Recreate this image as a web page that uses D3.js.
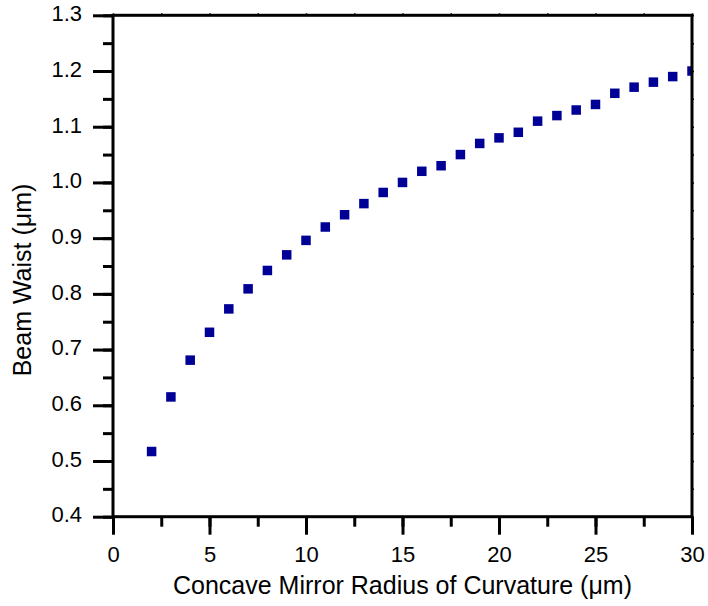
<!DOCTYPE html>
<html>
<head>
<meta charset="utf-8">
<script src="https://cdn.jsdelivr.net/npm/d3@7"></script>
<style>
  html, body { margin: 0; padding: 0; background: #fff; }
  svg { display: block; }
  text { font-family: "Liberation Sans", Arial, sans-serif; fill: #000; }
</style>
</head>
<body>
<svg id="chart" width="708" height="606"></svg>
<script>
// Beam waist versus concave mirror radius of curvature
const radius = [2, 3, 4, 5, 6, 7, 8, 9, 10, 11, 12, 13, 14, 15, 16,
                17, 18, 19, 20, 21, 22, 23, 24, 25, 26, 27, 28, 29, 30];
const waist  = [0.517, 0.615, 0.681, 0.731, 0.773, 0.809, 0.842, 0.870, 0.896, 0.920,
                0.942, 0.962, 0.982, 1.000, 1.020, 1.030, 1.050, 1.070, 1.080, 1.090,
                1.110, 1.120, 1.130, 1.140, 1.160, 1.171, 1.180, 1.190, 1.200];

const xTicks = [0, 5, 10, 15, 20, 25, 30];
const yTicks = [0.4, 0.5, 0.6, 0.7, 0.8, 0.9, 1.0, 1.1, 1.2, 1.3];
const xLabel = "Concave Mirror Radius of Curvature (\u03bcm)";
const yLabel = "Beam Waist (\u03bcm)";

const svg = d3.select("#chart");
const m = { left: 113, right: 692, top: 15.3, bottom: 516.7 };

const x = d3.scaleLinear().domain([0, 30]).range([m.left, m.right]);
const y = d3.scaleLinear().domain([0.4, 1.3]).range([m.bottom, m.top]);

const xMinor = d3.range(0, 30.01, 2.5);
const yMinor = d3.range(0.4, 1.3001, 0.05);

// clip region for the markers
svg.append("defs").append("clipPath").attr("id", "plotClip")
  .append("rect")
  .attr("x", m.left).attr("y", m.top)
  .attr("width", m.right - m.left).attr("height", m.bottom - m.top);

// data markers
svg.append("g").attr("clip-path", "url(#plotClip)")
  .selectAll("rect").data(radius).join("rect")
  .attr("x", (d) => x(d) - 4.75)
  .attr("y", (d, i) => y(waist[i]) - 4.75)
  .attr("width", 9.5).attr("height", 9.5)
  .attr("fill", "#000096");

function styleAxis(g, width) {
  g.select(".domain").remove();
  g.selectAll("line").attr("stroke", "#000").attr("stroke-width", width);
  g.selectAll("text").style("font-size", "22px");
}

// bottom axis: minor then major ticks
svg.append("g").attr("transform", `translate(0,${m.bottom})`)
  .call(d3.axisBottom(x).tickValues(xMinor).tickSize(10).tickFormat(""))
  .call((g) => styleAxis(g, 3));
svg.append("g").attr("transform", `translate(0,${m.bottom})`)
  .call(d3.axisBottom(x).tickValues(xTicks).tickSize(18).tickPadding(12).tickFormat(d3.format("d")))
  .call((g) => styleAxis(g, 3));

// left axis: minor then major ticks
svg.append("g").attr("transform", `translate(${m.left},0)`)
  .call(d3.axisLeft(y).tickValues(yMinor).tickSize(10).tickFormat(""))
  .call((g) => styleAxis(g, 3));
const yAxis = svg.append("g").attr("transform", `translate(${m.left},0)`)
  .call(d3.axisLeft(y).tickValues(yTicks).tickSize(20).tickPadding(11).tickFormat(d3.format(".1f")))
  .call((g) => styleAxis(g, 3));
yAxis.selectAll("text").attr("dy", "0.24em");

// top and right axes carry tiny outward ticks
svg.append("g").attr("transform", `translate(0,${m.top})`)
  .call(d3.axisTop(x).tickValues(xMinor).tickSize(2).tickFormat(""))
  .call((g) => styleAxis(g, 1.5));
svg.append("g").attr("transform", `translate(${m.right},0)`)
  .call(d3.axisRight(y).tickValues(yMinor).tickSize(2).tickFormat(""))
  .call((g) => styleAxis(g, 1.5));

// frame
svg.append("rect")
  .attr("x", m.left).attr("y", m.top)
  .attr("width", m.right - m.left).attr("height", m.bottom - m.top)
  .attr("fill", "none").attr("stroke", "#000").attr("stroke-width", 3);

// axis titles
svg.append("text")
  .attr("x", (m.left + m.right) / 2).attr("y", 594)
  .attr("text-anchor", "middle").style("font-size", "25px")
  .text(xLabel);
svg.append("text")
  .attr("transform", `translate(31,280) rotate(-90)`)
  .attr("text-anchor", "middle").style("font-size", "25px")
  .text(yLabel);
</script>
</body>
</html>
